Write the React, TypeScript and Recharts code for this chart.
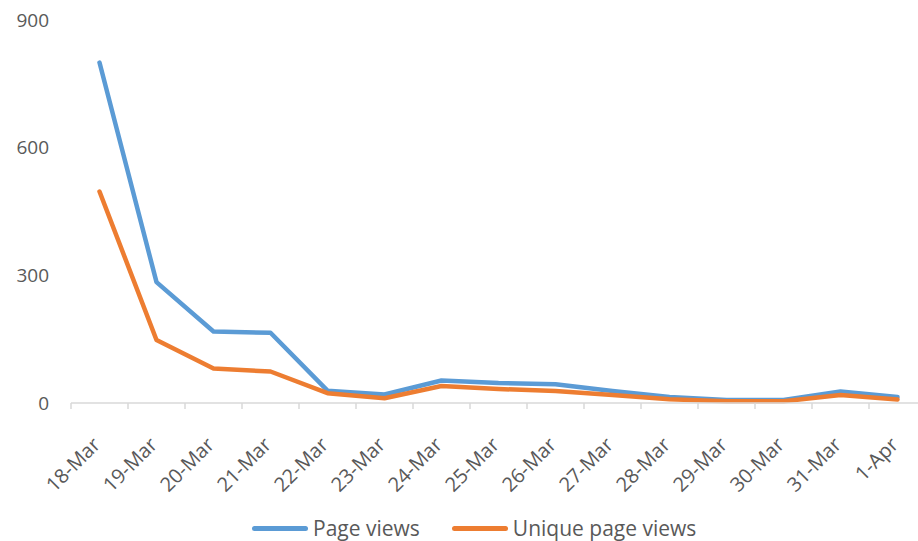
import React from "react";
import { LineChart, Line, XAxis, YAxis, Legend } from "recharts";

const dates = [
  "18-Mar", "19-Mar", "20-Mar", "21-Mar", "22-Mar", "23-Mar", "24-Mar", "25-Mar",
  "26-Mar", "27-Mar", "28-Mar", "29-Mar", "30-Mar", "31-Mar", "1-Apr",
];
const pageViews = [800, 284, 168, 165, 29, 20, 53, 47, 44, 28, 14, 7, 7, 27, 14];
const uniquePageViews = [497, 148, 81, 74, 23, 11, 40, 33, 28, 19, 9, 4, 4, 19, 8];
const yTicks = [0, 300, 600, 900];

const seriesInfo = [
  { key: "pv", name: "Page views", color: "#5B9BD5" },
  { key: "upv", name: "Unique page views", color: "#ED7D31" },
];

const data = dates.map((d, i) => ({ date: d, pv: pageViews[i], upv: uniquePageViews[i] }));

const FONT = "'Open Sans', 'Noto Sans', sans-serif";
const TEXT_COLOR = "#595959";
const AXIS_COLOR = "#D9D9D9";

// chart is a little wider than the window; the right end gets cut like in the source
const CHART_W = 930;
const MARGIN = { top: 20, right: 4, bottom: 0, left: 0 };
const Y_W = 71;
const BAND = (CHART_W - MARGIN.right - MARGIN.left - Y_W) / dates.length;

function DateTick(props: any) {
  const { x, y, payload, index } = props;
  return (
    <g>
      {/* excel puts tick marks between categories */}
      <line x1={x - BAND / 2} x2={x - BAND / 2} y1={y} y2={y + 6} stroke={AXIS_COLOR} strokeWidth={1.5} />
      {index === dates.length - 1 && (
        <line x1={x + BAND / 2} x2={x + BAND / 2} y1={y} y2={y + 6} stroke={AXIS_COLOR} strokeWidth={1.5} />
      )}
      <text
        x={0}
        y={0}
        transform={`translate(${x + 2},${y + 43}) rotate(-45)`}
        textAnchor="end"
        fill={TEXT_COLOR}
        fontSize={20}
        fontFamily={FONT}
      >
        {payload.value}
      </text>
    </g>
  );
}

function LegendContent() {
  return (
    <div
      style={{
        display: "flex",
        alignItems: "center",
        height: 28,
        paddingLeft: 252,
        fontFamily: FONT,
        fontSize: 21,
        color: TEXT_COLOR,
      }}
    >
      {seriesInfo.map((s) => (
        <div key={s.key} style={{ display: "flex", alignItems: "center", marginRight: 32 }}>
          <span
            style={{
              display: "inline-block",
              width: 56,
              height: 5,
              borderRadius: 3,
              background: s.color,
              marginRight: 5,
            }}
          />
          <span>{s.name}</span>
        </div>
      ))}
    </div>
  );
}

export default function App() {
  return (
    <div style={{ position: "absolute", left: 0, top: 0, width: 918, height: 541, overflow: "hidden", background: "#fff" }}>
      <LineChart width={CHART_W} height={541} data={data} margin={MARGIN}>
        <XAxis
          dataKey="date"
          scale="band"
          interval={0}
          height={110}
          axisLine={{ stroke: AXIS_COLOR, strokeWidth: 1.5 }}
          tickLine={false}
          tickSize={0}
          tickMargin={0}
          tick={<DateTick />}
        />
        <YAxis
          domain={[0, 900]}
          ticks={yTicks}
          width={Y_W}
          axisLine={false}
          tickLine={false}
          tickSize={0}
          tickMargin={22}
          tick={{ fill: TEXT_COLOR, fontSize: 19, fontFamily: FONT }}
        />
        <Legend
          verticalAlign="bottom"
          content={<LegendContent />}
          wrapperStyle={{ left: 0, width: 918, top: 514, bottom: "auto", height: 28 }}
        />
        {seriesInfo.map((s) => (
          <Line
            key={s.key}
            type="linear"
            dataKey={s.key}
            name={s.name}
            stroke={s.color}
            strokeWidth={4.5}
            strokeLinecap="round"
            strokeLinejoin="round"
            dot={false}
            activeDot={false}
            isAnimationActive={false}
          />
        ))}
      </LineChart>
    </div>
  );
}
